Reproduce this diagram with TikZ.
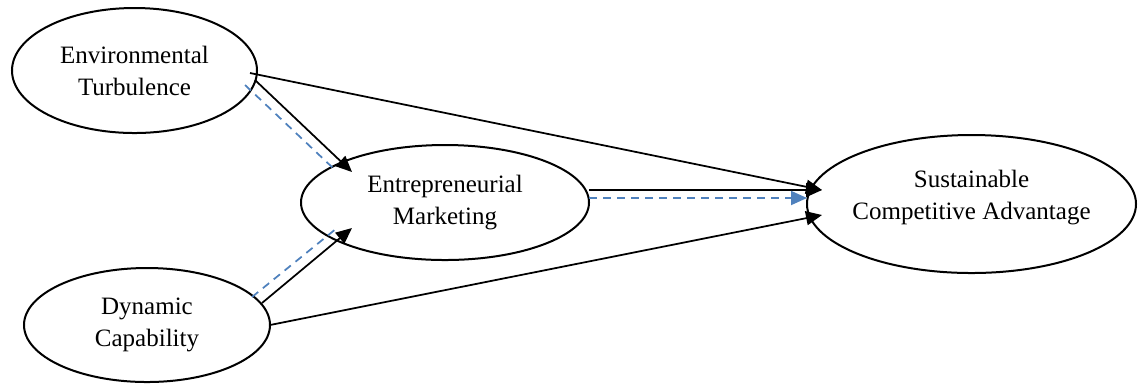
\documentclass[tikz,border=0pt]{standalone}
\usepackage{fontspec}
\setmainfont{Liberation Serif}
\usetikzlibrary{shapes.geometric,arrows.meta,calc}
\definecolor{dashblue}{RGB}{79,129,189}
\begin{document}
\begin{tikzpicture}[x=0.4pt,y=-0.4pt,
  construct/.style={ellipse,draw,line width=0.8pt,inner sep=0pt,align=center,
    font=\fontsize{10}{12.8}\selectfont},
  effect/.style={line width=0.7pt,-{Triangle[length=6.4pt,width=5.6pt]}},
  moder/.style={dashblue,line width=0.7pt,dash pattern=on 3.2pt off 2.4pt},
  moderarrow/.style={moder,-{Triangle[length=6.4pt,width=5.6pt]}}]
\useasboundingbox (0,0) rectangle (1139,383);

\node[construct,minimum width=98pt,minimum height=50pt] (et) at (134.5,70.5)
  {Environmental\\Turbulence};
\node[construct,minimum width=115.2pt,minimum height=46pt] (em) at (445,202.5)
  {Entrepreneurial\\Marketing};
\node[construct,minimum width=131.6pt,minimum height=55.2pt,inner xsep=-6pt] (sca) at (971.5,204)
  {\raisebox{2.6pt}[\height][\depth]{\begin{tabular}{@{}c@{}}Sustainable\\Competitive Advantage\end{tabular}}};
\node[construct,minimum width=98.4pt,minimum height=45.6pt] (dc) at (147,325)
  {Dynamic\\Capability};

% ET -> SCA
\draw[effect] ($(et.center)+(115.5,2.5)$) -- ($(sca.center)+(-149.5,-14)$);
% ET -> EM
\draw[moder] ($(et.center)+(110.5,14.5)$) -- ($(em.center)+(-112,-34.5)$);
\draw[effect] ($(et.center)+(120.5,9.5)$) -- ($(em.center)+(-93,-30.5)$);
% DC -> EM
\draw[moder] ($(dc.center)+(105,-28)$) -- ($(em.center)+(-108,25.5)$);
\draw[effect] ($(dc.center)+(115,-22)$) -- ($(em.center)+(-93,25.5)$);
% EM -> SCA
\draw[effect] ($(em.center)+(144,-12.5)$) -- ($(sca.center)+(-149.5,-14)$);
\draw[moderarrow] ($(em.center)+(144,-4.5)$) -- ($(sca.center)+(-164.5,-6)$);
% DC -> SCA
\draw[effect] ($(dc.center)+(123,0)$) -- ($(sca.center)+(-149.5,11)$);
\end{tikzpicture}
\end{document}
